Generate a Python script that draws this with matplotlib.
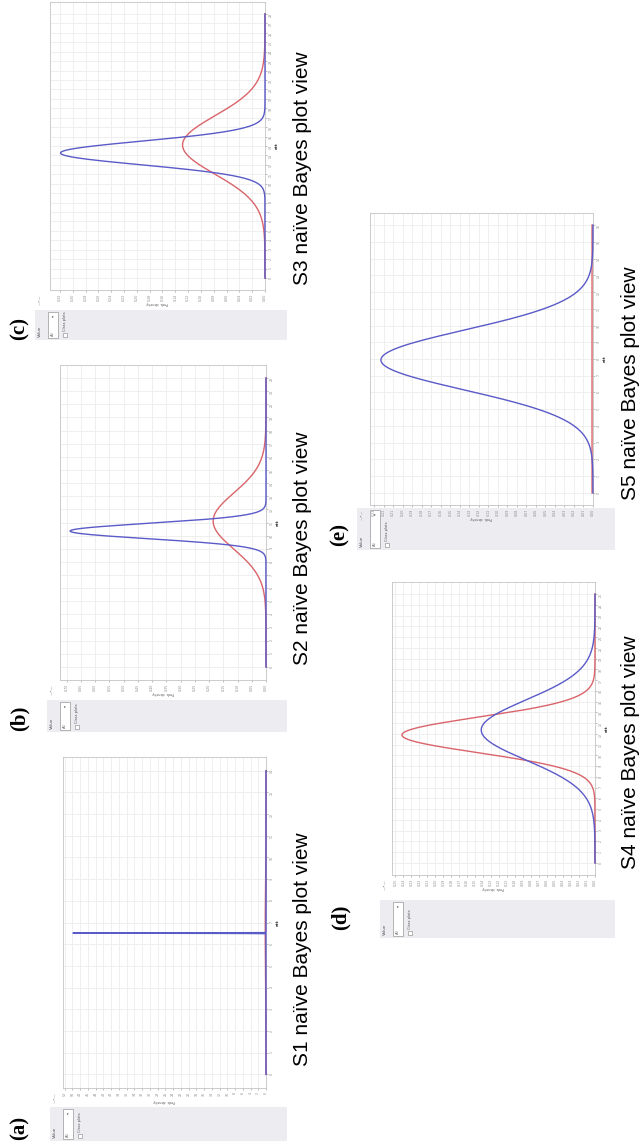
import numpy as np
import matplotlib
matplotlib.use("Agg")
import matplotlib.pyplot as plt
from matplotlib.patches import Rectangle
from matplotlib.ticker import FormatStrFormatter

# ---------------- data ----------------
panel_labels = ["(a)", "(b)", "(c)", "(d)", "(e)"]
captions = ["S1 naïve Bayes plot view", "S2 naïve Bayes plot view",
            "S3 naïve Bayes plot view", "S4 naïve Bayes plot view",
            "S5 naïve Bayes plot view"]
attribute_names = ["att", "att", "att", "att", "att"]
value_min = [0, 0, 0, 0, 0]
value_max = [14, 22, 28, 25, 16]
blue_mean = [6.51, 10.35, 13.26, 12.36, 7.94]
blue_std = [0.008, 0.58, 1.25, 2.8, 1.79]
red_mean = [6.55, 11.11, 14.11, 11.9, 7.94]
red_std = [2.0, 2.15, 3.1, 1.65, 400.0]
density_step = [2.0, 0.05, 0.02, 0.01, 0.01]
density_fmt = ["%.0f", "%.2f", "%.2f", "%.2f", "%.2f"]

# ------------- layout (figure pixels, y from top) -------------
W, H = 643, 1146
frames = [(63, 757, 266, 1088), (60, 365, 266, 680), (50, 2, 265, 290),
          (392, 582, 595, 875), (370, 213, 593, 505)]
controls = [(50, 1107, 287, 1141), (47, 700, 287, 732), (35, 310, 287, 340),
            (380, 900, 615, 938), (357, 508, 615, 550)]
label_pos = [(20, 1128), (20, 718), (20, 328), (341, 917), (340, 535)]
caption_pos = [(302, 949), (302, 548), (302, 168), (631, 752), (631, 383)]

BLUE = "#5a5ac8"
RED = "#d9646a"
GRID = "#ededed"
FRAME = "#c4c4c4"
PANEL = "#ececf1"

fig = plt.figure(figsize=(W / 100, H / 100), dpi=100)

# overlay in pixel coordinates
ov = fig.add_axes([0, 0, 1, 1], zorder=0)
ov.set_xlim(0, W)
ov.set_ylim(H, 0)
ov.axis("off")


def pdf(v, m, s):
    return np.exp(-0.5 * ((v - m) / s) ** 2) / (s * np.sqrt(2 * np.pi))


for i in range(5):
    x0, y0, x1, y1 = frames[i]
    ax = fig.add_axes([x0 / W, 1 - y1 / H, (x1 - x0) / W, (y1 - y0) / H], zorder=2)
    vmin, vmax = value_min[i], value_max[i]
    v = np.linspace(vmin, vmax, 6001)
    v = np.concatenate([v, blue_mean[i] + blue_std[i] * np.linspace(-6, 6, 241),
                        red_mean[i] + min(red_std[i], 5) * np.linspace(-6, 6, 241)])
    v = np.sort(v[(v >= vmin) & (v <= vmax)])
    b = pdf(v, blue_mean[i], blue_std[i])
    r = pdf(v, red_mean[i], red_std[i])
    peak = max(b.max(), r.max())
    xmax = peak / 0.951

    ax.plot(r, v, color=RED, lw=1.0, clip_on=False, zorder=3)
    ax.plot(b, v, color=BLUE, lw=1.0, clip_on=False, zorder=4)
    span = vmax - vmin
    ax.set_xlim(xmax, 0)
    ax.set_ylim(vmin - 0.045 * span, vmax + 0.045 * span)
    ax.set_xticks(np.arange(0, xmax, density_step[i]))
    ax.set_yticks(np.arange(vmin, vmax + 0.5, 1))
    ax.xaxis.set_major_formatter(FormatStrFormatter(density_fmt[i]))
    ax.yaxis.tick_right()
    ax.grid(True, color=GRID, lw=0.6)
    ax.set_axisbelow(True)
    ax.tick_params(axis="both", labelsize=2.3, colors="#8a8a8a", length=1.5,
                   width=0.4, pad=1, labelrotation=90)
    for sp in ax.spines.values():
        sp.set_color(FRAME)
        sp.set_linewidth(0.6)

    # axis titles of the rotated screenshot
    ov.text((x0 + x1) / 2, y1 + 13, "Prob. density", rotation=180, fontsize=2.4,
            color="#555555", ha="center", va="center")
    ov.text(x1 + 12, (y0 + y1) / 2, attribute_names[i], rotation=90, fontsize=3,
            color="#333333", fontweight="bold", ha="center", va="center")

    # control strip
    cx0, cy0, cx1, cy1 = controls[i]
    ov.add_patch(Rectangle((cx0, cy0), cx1 - cx0, cy1 - cy0, facecolor=PANEL,
                           edgecolor="none"))
    ov.text(cx0 + 5, cy1 - 3, "Value", rotation=90, fontsize=3, color="#555555",
            ha="center", va="bottom")
    ov.add_patch(Rectangle((cx0 + 13, cy0 + 2), 10, cy1 - cy0 - 4,
                           facecolor="white", edgecolor="#999999", lw=0.5))
    ov.text(cx0 + 18, cy0 + 6, "▾", rotation=90, fontsize=3, color="#666666",
            ha="center", va="center")
    ov.text(cx0 + 18, cy1 - 6, "All", rotation=90, fontsize=2.6, color="#666666",
            ha="center", va="center")
    ov.add_patch(Rectangle((cx0 + 28, cy1 - 7), 4, 4, facecolor="white",
                           edgecolor="#999999", lw=0.5))
    ov.text(cx0 + 30, cy1 - 9, "Class plots", rotation=90, fontsize=2.6,
            color="#555555", ha="center", va="bottom")
    ov.text(cx0 + 5, y1 + 10, "—•—", rotation=90, fontsize=3, color="#777777",
            ha="center", va="center")

    # panel label and caption
    lx, ly = label_pos[i]
    ov.text(lx, ly, panel_labels[i], rotation=90, fontsize=15, fontweight="bold",
            family="Liberation Serif", ha="center", va="center", color="black")
    cx, cy = caption_pos[i]
    ov.text(cx, cy, captions[i], rotation=90, fontsize=15,
            family="Liberation Sans", ha="center", va="center", color="black")

fig.savefig("out.png", dpi=100, facecolor="white")
